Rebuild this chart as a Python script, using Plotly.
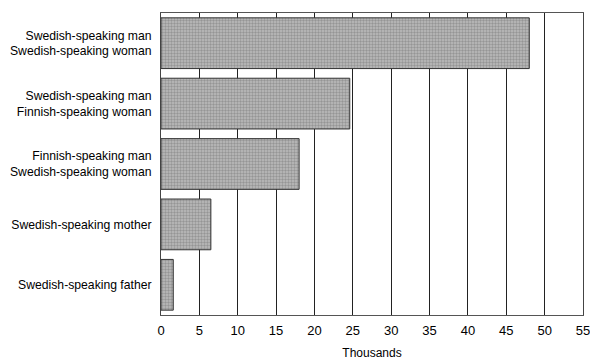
import plotly.graph_objects as go

categories = [
    "Swedish-speaking man<br>Swedish-speaking woman",
    "Swedish-speaking man<br>Finnish-speaking woman",
    "Finnish-speaking man<br>Swedish-speaking woman",
    "Swedish-speaking mother",
    "Swedish-speaking father",
]
values = [48.0, 24.6, 18.0, 6.5, 1.6]
tick_vals = list(range(0, 56, 5))

fig = go.Figure(
    go.Bar(
        x=values,
        y=categories,
        orientation="h",
        marker=dict(
            color="#a3a3a3",
            line=dict(color="#333333", width=1),
            pattern=dict(shape=".", fgcolor="#6e6e6e", bgcolor="#bdbdbd", size=3, solidity=0.5),
        ),
        width=0.84,
    )
)

fig.update_layout(
    width=590,
    height=361,
    margin=dict(l=161, r=7, t=13, b=46),
    paper_bgcolor="white",
    plot_bgcolor="white",
    font=dict(family="Liberation Sans", size=12.2, color="black"),
    showlegend=False,
)
fig.update_xaxes(
    range=[0, 55],
    tickvals=tick_vals,
    ticktext=[str(v) for v in tick_vals],
    tickfont=dict(size=13),
    ticklabeloverflow="allow",
    ticklabelstandoff=3,
    showgrid=True,
    gridcolor="#222222",
    gridwidth=1,
    zeroline=False,
    showline=True,
    linecolor="#555555",
    linewidth=1,
    mirror=True,
    ticks="",
    automargin=False,
    title=dict(text="Thousands", font=dict(size=12), standoff=12),
)
fig.update_yaxes(
    categoryorder="array",
    categoryarray=categories[::-1],
    showgrid=False,
    zeroline=False,
    showline=True,
    linecolor="#444444",
    linewidth=1,
    mirror=True,
    ticks="",
    ticklabelstandoff=6,
    automargin=False,
)

fig.write_html(
    "out.html",
    config={"displayModeBar": False},
    post_script="document.body.style.margin='0';document.body.style.overflow='hidden';",
)
